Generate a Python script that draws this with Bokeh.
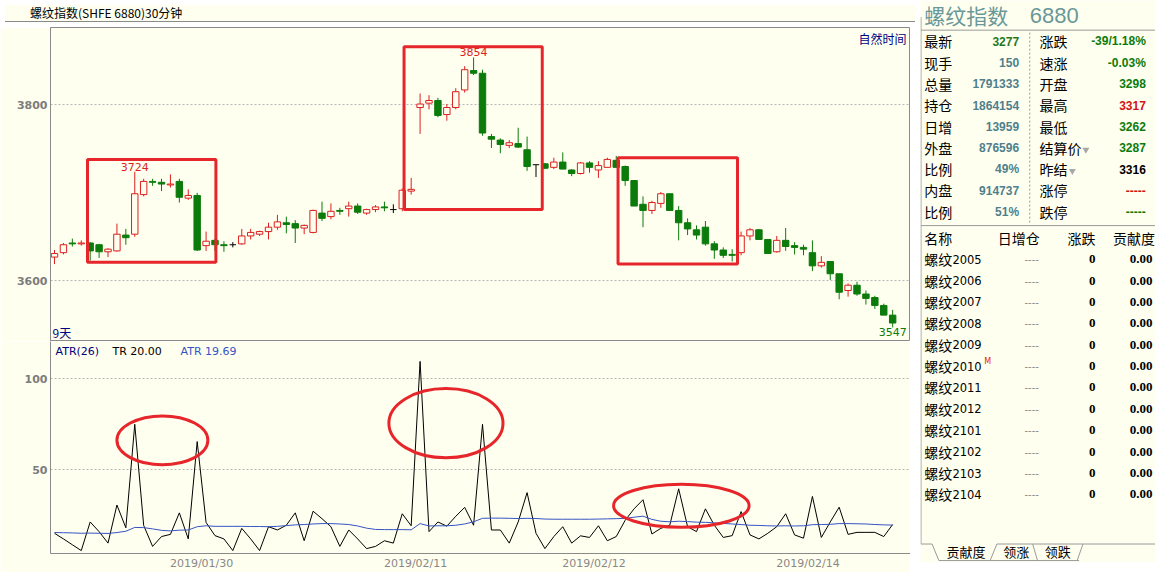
import numpy as np
from bokeh.plotting import figure
from bokeh.layouts import column, row
from bokeh.models import ColumnDataSource, Range1d, FixedTicker, Div
from bokeh.embed import file_html
from bokeh.resources import INLINE
from bokeh.core.properties import value

# ---------------- data ----------------
title_text = "螺纹指数(SHFE 6880)30分钟"

opens = [3627, 3632, 3643, 3642, 3643, 3641, 3633, 3634, 3652, 3653,
         3698, 3713, 3712, 3709, 3713, 3694, 3697, 3640, 3646, 3641,
         3641, 3642, 3651, 3653, 3656, 3661, 3666, 3665, 3660, 3655,
         3677, 3673, 3680, 3682, 3685, 3677, 3681, 3684, 3681, 3682,
         3702, 3797, 3802, 3805, 3789, 3797, 3817, 3839, 3836, 3764,
         3760, 3754, 3756, 3749, 3732, 3733, 3729, 3735, 3726, 3722,
         3734, 3726, 3729, 3737, 3730, 3714, 3687, 3680, 3688, 3699,
         3680, 3666, 3658, 3661, 3642, 3635, 3630, 3632, 3651, 3658,
         3647, 3633, 3646, 3640, 3638, 3632, 3617, 3622, 3608, 3589,
         3595, 3585, 3581, 3572, 3561]
highs = [3635, 3643, 3648, 3646, 3644, 3642, 3637, 3665, 3659, 3724,
         3716, 3716, 3716, 3721, 3716, 3704, 3700, 3656, 3648, 3645,
         3644, 3659, 3659, 3657, 3666, 3675, 3673, 3669, 3664, 3681,
         3690, 3688, 3683, 3690, 3688, 3682, 3686, 3690, 3687, 3705,
         3717, 3813, 3811, 3808, 3801, 3819, 3844, 3854, 3840, 3767,
         3762, 3760, 3774, 3764, 3732, 3734, 3740, 3746, 3727, 3735,
         3736, 3736, 3740, 3742, 3731, 3714, 3696, 3691, 3701, 3699,
         3685, 3671, 3663, 3668, 3645, 3638, 3636, 3656, 3660, 3659,
         3647, 3651, 3660, 3644, 3641, 3646, 3628, 3622, 3608, 3597,
         3599, 3589, 3583, 3574, 3567]
lows = [3619, 3630, 3639, 3640, 3623, 3626, 3627, 3633, 3641, 3650,
        3696, 3708, 3702, 3706, 3689, 3692, 3634, 3634, 3634, 3633,
        3638, 3641, 3647, 3651, 3647, 3658, 3654, 3643, 3653, 3654,
        3668, 3670, 3675, 3673, 3676, 3675, 3678, 3679, 3677, 3679,
        3698, 3767, 3795, 3786, 3782, 3795, 3814, 3834, 3765, 3751,
        3745, 3751, 3751, 3725, 3718, 3727, 3727, 3727, 3719, 3721,
        3723, 3717, 3729, 3729, 3708, 3685, 3661, 3676, 3683, 3680,
        3646, 3652, 3647, 3640, 3625, 3626, 3622, 3629, 3646, 3647,
        3631, 3632, 3634, 3630, 3629, 3611, 3615, 3601, 3579, 3582,
        3583, 3573, 3568, 3561, 3547]
closes = [3631, 3641, 3642, 3643, 3634, 3633, 3636, 3653, 3649, 3699,
          3713, 3712, 3710, 3710, 3695, 3697, 3635, 3645, 3641, 3640,
          3641, 3651, 3655, 3656, 3661, 3667, 3664, 3660, 3663, 3680,
          3671, 3679, 3679, 3685, 3678, 3681, 3684, 3683, 3681, 3703,
          3704, 3801, 3805, 3788, 3797, 3815, 3840, 3836, 3768, 3761,
          3755, 3757, 3752, 3730, 3732, 3728, 3735, 3727, 3722, 3734,
          3729, 3731, 3738, 3729, 3714, 3685, 3680, 3689, 3699, 3680,
          3666, 3659, 3652, 3642, 3635, 3629, 3629, 3651, 3658, 3647,
          3631, 3646, 3639, 3638, 3636, 3617, 3621, 3608, 3587, 3595,
          3585, 3580, 3572, 3561, 3552]

tr_values = [15.2, 12.1, 8.9, 5.7, 21.4, 16.1, 9.8, 30.7, 18.2, 75.0,
             19.5, 8.0, 13.4, 14.6, 26.4, 12.1, 65.5, 21.1, 13.9, 12.1,
             5.7, 17.9, 12.1, 5.7, 18.8, 17.0, 19.6, 26.4, 11.1, 27.3,
             23.2, 18.8, 8.0, 17.0, 12.1, 6.8, 8.0, 11.1, 9.8, 25.9,
             19.3, 109.5, 16.1, 21.4, 19.1, 24.5, 29.4, 19.6, 75.0, 17.0,
             17.0, 9.8, 21.4, 37.5, 15.2, 6.8, 13.4, 18.8, 9.8, 13.8,
             12.9, 19.3, 11.1, 13.4, 22.3, 28.6, 33.6, 14.8, 17.9, 19.6,
             39.6, 18.8, 16.1, 28.6, 19.6, 12.9, 13.9, 27.1, 14.3, 12.1,
             15.2, 18.8, 25.9, 14.3, 12.5, 35.4, 12.9, 21.4, 29.5, 14.6,
             15.7, 15.7, 15.7, 13.4, 20.0]
atr_values = [15.6, 15.5, 15.4, 15.2, 15.3, 15.2, 15.1, 15.6, 16.3, 18.4,
              18.3, 17.6, 16.8, 16.5, 16.9, 17.0, 18.8, 19.3, 19.0, 19.0,
              19.0, 19.0, 18.9, 18.9, 18.8, 19.0, 19.4, 19.8, 20.0, 20.3,
              20.5, 20.5, 20.3, 20.0, 19.2, 18.0, 17.3, 17.2, 17.2, 17.2,
              17.1, 20.5, 19.2, 19.3, 19.3, 19.6, 20.3, 21.5, 23.4, 23.5,
              23.5, 23.4, 23.3, 23.4, 23.3, 23.0, 22.9, 22.9, 22.9, 22.9,
              22.9, 23.0, 23.1, 23.2, 23.4, 24.0, 24.6, 22.8, 21.8, 21.5,
              21.8, 21.6, 21.3, 21.2, 20.9, 20.6, 20.3, 20.0, 19.6, 19.5,
              19.3, 19.2, 19.3, 19.2, 19.3, 19.9, 20.0, 20.1, 20.5, 20.5,
              20.4, 20.3, 20.0, 19.8, 19.69]

price_ticks = [3600, 3800]
atr_ticks = [50, 100]
date_tick_pos = [16.5, 40.5, 60.5, 84.5]
date_tick_labels = ["2019/01/30", "2019/02/11", "2019/02/12", "2019/02/14"]

# annotation boxes (bar index / price) and ellipses (bar index / ATR value)
box_left = [3.7, 39.2, 63.2]
box_right = [18.1, 54.7, 76.6]
box_top = [3738, 3866, 3740]
box_bottom = [3621, 3681, 3619]
ell_x = [12.1, 43.9, 70.3]
ell_y = [66.2, 75.6, 30.3]
ell_w = [10.2, 12.8, 15.2]
ell_h = [26.8, 38.0, 23.6]

# quote panel
quote_left_labels = ["最新", "现手", "总量", "持仓", "日增", "外盘", "比例", "内盘", "比例"]
quote_left_values = ["3277", "150", "1791333", "1864154", "13959", "876596", "49%", "914737", "51%"]
quote_right_labels = ["涨跌", "速涨", "开盘", "最高", "最低", "结算价", "昨结", "涨停", "跌停"]
quote_right_values = ["-39/1.18%", "-0.03%", "3298", "3317", "3262", "3287", "3316", "-----", "-----"]
contract_names = ["螺纹2005", "螺纹2006", "螺纹2007", "螺纹2008", "螺纹2009", "螺纹2010",
                  "螺纹2011", "螺纹2012", "螺纹2101", "螺纹2102", "螺纹2103", "螺纹2104"]
contract_oi = ["----"] * 12
contract_chg = ["0"] * 12
contract_contrib = ["0.00"] * 12
table_headers = ["名称", "日增仓", "涨跌", "贡献度"]
tab_names = ["贡献度", "领涨", "领跌"]

# ---------------- styles ----------------
BG = "#fffff0"
RED = "#dc1f1f"
GREEN = "#0b7b0b"
ANN = "#e6262a"
GRID = "#b8b8b8"
AXIS = "#8a8a8a"
CJK = value("Noto Sans CJK SC")
SANS = value("DejaVu Sans")

W_LEFT, W_RIGHT = 910, 235
H_HEAD, H_PRICE, H_ATR = 17, 314, 231

def base_fig(**kw):
    return figure(toolbar_location=None, output_backend="svg",
                  background_fill_color=BG, border_fill_color=BG, **kw)

# ---------------- header ----------------
hp = Div(text=title_text, width=W_LEFT, height=H_HEAD,
         styles={"font-family": "Noto Sans CJK SC", "font-size": "12px", "line-height": "16px",
                 "padding-left": "25px", "border-bottom": "1px solid #8a8a8a",
                 "background-color": BG, "box-sizing": "border-box", "color": "black",
                 "overflow": "hidden", "white-space": "nowrap"})

# ---------------- candles ----------------
n = len(opens)
idx = np.arange(n)
o = np.array(opens, dtype=float)
c = np.array(closes, dtype=float)
h = np.array(highs, dtype=float)
l = np.array(lows, dtype=float)
kind = np.sign(c - o)
line_col = [RED if k > 0 else (GREEN if k < 0 else "black") for k in kind]
fill_col = [BG if k > 0 else (GREEN if k < 0 else "black") for k in kind]
body = kind != 0
half = 0.36

xr = Range1d(-0.45, 96.0)
pr = Range1d(3531, 3888)
cp = base_fig(width=W_LEFT, height=H_PRICE, x_range=xr, y_range=pr,
              min_border_left=50, min_border_right=0, min_border_top=0, min_border_bottom=0,
              outline_line_color=AXIS)
cp.xaxis.visible = False
cp.xgrid.visible = False
cp.yaxis.ticker = FixedTicker(ticks=price_ticks)
cp.ygrid.ticker = FixedTicker(ticks=price_ticks)
cp.ygrid.grid_line_color = GRID
cp.ygrid.grid_line_dash = "2 2"
cp.yaxis.axis_line_color = AXIS
cp.yaxis.major_tick_line_color = None
cp.yaxis.minor_tick_line_color = None
cp.yaxis.major_tick_out = 0
cp.yaxis.major_label_standoff = 3
cp.yaxis.major_label_text_font = "DejaVu Sans"
cp.yaxis.major_label_text_font_size = "11px"
cp.yaxis.major_label_text_font_style = "bold"
cp.yaxis.major_label_text_color = "#7c7c7c"

src_all = ColumnDataSource(dict(x=idx, h=h, l=l, col=line_col))
cp.segment(x0="x", y0="h", x1="x", y1="l", line_color="col", line_width=1, source=src_all)
src_body = ColumnDataSource(dict(x=idx[body], top=np.maximum(o, c)[body], bottom=np.minimum(o, c)[body],
                                 col=[line_col[i] for i in idx[body]], fill=[fill_col[i] for i in idx[body]]))
cp.vbar(x="x", width=2 * half, top="top", bottom="bottom", fill_color="fill", line_color="col",
        line_width=1, source=src_body)
src_doji = ColumnDataSource(dict(x0=idx[~body] - half, x1=idx[~body] + half, y=c[~body],
                                 col=[line_col[i] for i in idx[~body]]))
cp.segment(x0="x0", y0="y", x1="x1", y1="y", line_color="col", line_width=1, source=src_doji)

cp.quad(left=box_left, right=box_right, top=box_top, bottom=box_bottom, fill_color=None,
        line_color=ANN, line_width=3)

hi1 = int(np.argmax(h[:40]))
hi2 = int(np.argmax(h))
lo = int(np.argmin(l))
cp.text(x=[hi1, hi2], y=[h[hi1], h[hi2]], text=[str(int(h[hi1])), str(int(h[hi2]))],
        text_font=SANS, text_font_size="11px", text_color=RED, text_align="center",
        text_baseline="bottom", y_offset=-1)
cp.text(x=[lo], y=[l[lo]], text=[str(int(l[lo]))], text_font=SANS, text_font_size="11px",
        text_color=GREEN, text_align="center", text_baseline="top", y_offset=1)
cp.text(x=[xr.end], y=[pr.end], text=["自然时间"], text_font=CJK, text_font_size="12px",
        text_color="#000080", text_align="right", text_baseline="top", x_offset=-4, y_offset=2)
cp.text(x=[xr.start], y=[pr.start], text=["9天"], text_font=CJK, text_font_size="12px",
        text_color="#000080", text_align="left", text_baseline="bottom", x_offset=2, y_offset=-1)

# ---------------- ATR ----------------
ar = Range1d(4.1, 120.4)
ap = base_fig(width=W_LEFT, height=H_ATR, x_range=xr, y_range=ar,
              min_border_left=50, min_border_right=0, min_border_top=0, min_border_bottom=19,
              outline_line_color=None)
ap.xgrid.visible = False
ap.yaxis.ticker = FixedTicker(ticks=atr_ticks)
ap.ygrid.ticker = FixedTicker(ticks=atr_ticks)
ap.ygrid.grid_line_color = GRID
ap.ygrid.grid_line_dash = "2 2"
ap.xaxis.ticker = FixedTicker(ticks=date_tick_pos)
ap.xaxis.major_label_overrides = {p_: t_ for p_, t_ in zip(date_tick_pos, date_tick_labels)}
for ax in (ap.xaxis, ap.yaxis):
    ax.axis_line_color = AXIS
    ax.major_tick_line_color = None
    ax.minor_tick_line_color = None
    ax.major_tick_out = 0
    ax.major_label_standoff = 3
    ax.major_label_text_font = "DejaVu Sans"
    ax.major_label_text_font_size = "11px"
    ax.major_label_text_color = "#7c7c7c"
ap.yaxis.major_label_text_font_style = "bold"
ap.xaxis.major_label_text_color = "#888888"

ap.line(x=idx, y=tr_values, line_color="black", line_width=1)
ap.line(x=idx, y=atr_values, line_color="#3652c4", line_width=1)
ap.ellipse(x=ell_x, y=ell_y, width=ell_w, height=ell_h, fill_color=None, line_color=ANN, line_width=3)

ap.text(x=[xr.start] * 3, y=[ar.end] * 3,
        text=["ATR(26)", "TR %.2f" % tr_values[-1], "ATR %.2f" % atr_values[-1]],
        x_offset=[5, 62, 130], y_offset=3, text_color=["#000080", "black", "#3652c4"],
        text_font=SANS, text_font_size="11px", text_baseline="top", text_align="left")

# ---------------- right quote panel ----------------
rp = base_fig(width=W_RIGHT, height=H_HEAD + H_PRICE + H_ATR, x_range=Range1d(0, 243),
              y_range=Range1d(578, 0), min_border=0, outline_line_color=None)
rp.axis.visible = False
rp.grid.visible = False

rp.text(x=[4], y=[15], text=["螺纹指数"], text_font=CJK, text_font_size="21px",
        text_color="#6a9899", text_baseline="middle")
rp.text(x=[113], y=[15], text=["6880"], text_font=value("Liberation Sans"), text_font_size="22px",
        text_color="#6a9899", text_baseline="middle")

row_y = [42 + 21.9 * i for i in range(len(quote_left_labels))]
rp.text(x=[4] * 9, y=row_y, text=quote_left_labels, text_font=CJK, text_font_size="14px",
        text_color="black", text_baseline="middle")
lv_col = ["#1f7a1f"] + ["#4f7f8c"] * 8
rp.text(x=[102] * 9, y=row_y, text=quote_left_values, text_font=value("Liberation Sans"),
        text_font_size="12px", text_font_style="bold", text_color=lv_col, text_align="right",
        text_baseline="middle")
rp.text(x=[123] * 9, y=row_y, text=quote_right_labels, text_font=CJK, text_font_size="14px",
        text_color="black", text_baseline="middle")
rv_col = [GREEN, GREEN, GREEN, "#d01515", GREEN, GREEN, "black", "#d01515", GREEN]
rp.text(x=[233] * 9, y=row_y, text=quote_right_values, text_font=value("Liberation Sans"),
        text_font_size="12px", text_font_style="bold", text_color=rv_col, text_align="right",
        text_baseline="middle")
rp.scatter(x=[171, 157], y=[row_y[5] + 2, row_y[6] + 2], marker="inverted_triangle", size=7,
           fill_color="#a8a8a8", line_color=None)

# table 2
rp.text(x=[4, 80, 152, 199], y=[244] * 4, text=table_headers, text_font=CJK, text_font_size="14px",
        text_color="black", text_baseline="middle")
row2_y = [266 + 22.0 * i for i in range(len(contract_names))]
rp.text(x=[4] * 12, y=row2_y, text=[nm[:2] for nm in contract_names], text_font=CJK,
        text_font_size="14px", text_color="black", text_baseline="middle")
rp.text(x=[33] * 12, y=row2_y, text=[nm[2:] for nm in contract_names], text_font=SANS,
        text_font_size="11.5px", text_color="black", text_baseline="middle")
rp.text(x=[115] * 12, y=row2_y, text=contract_oi, text_font=SANS, text_font_size="10px",
        text_color="#8a8a8a", text_align="center", text_baseline="middle")
rp.text(x=[181] * 12, y=row2_y, text=contract_chg, text_font=value("Liberation Serif"),
        text_font_size="13px", text_font_style="bold", text_color="black", text_align="right",
        text_baseline="middle")
rp.text(x=[240] * 12, y=row2_y, text=contract_contrib, text_font=value("Liberation Serif"),
        text_font_size="13px", text_font_style="bold", text_color="black", text_align="right",
        text_baseline="middle")
rp.text(x=[66], y=[row2_y[5] - 5], text=["M"], text_font=SANS, text_font_size="8px",
        text_color="#e02020", text_baseline="middle")

# tabs
rp.text(x=[47, 99, 142], y=[567] * 3, text=tab_names, text_font=CJK, text_font_size="13px",
        text_color="black", text_align="center", text_baseline="middle")

# panel frame lines
frame_xs = [[0.5, 0.5], [0.5, 243], [0.5, 243], [0.5, 12], [12, 19], [19, 164], [72, 79],
            [116, 121], [162, 168], [79, 243]]
frame_ys = [[17, 559], [30.5, 30.5], [231.5, 231.5], [559, 559], [559, 576], [576, 576],
            [576, 559], [559, 576], [576, 559], [559, 559]]
rp.multi_line(xs=frame_xs, ys=frame_ys, line_color="#9a9a9a", line_width=1)
rp.segment(x0=[113], y0=[33], x1=[113], y1=[229], line_color="#9a9a9a", line_dash="2 2")

layout = row(column(hp, cp, ap, spacing=0), rp, spacing=0)
open("out.html", "w").write(file_html(layout, INLINE))
